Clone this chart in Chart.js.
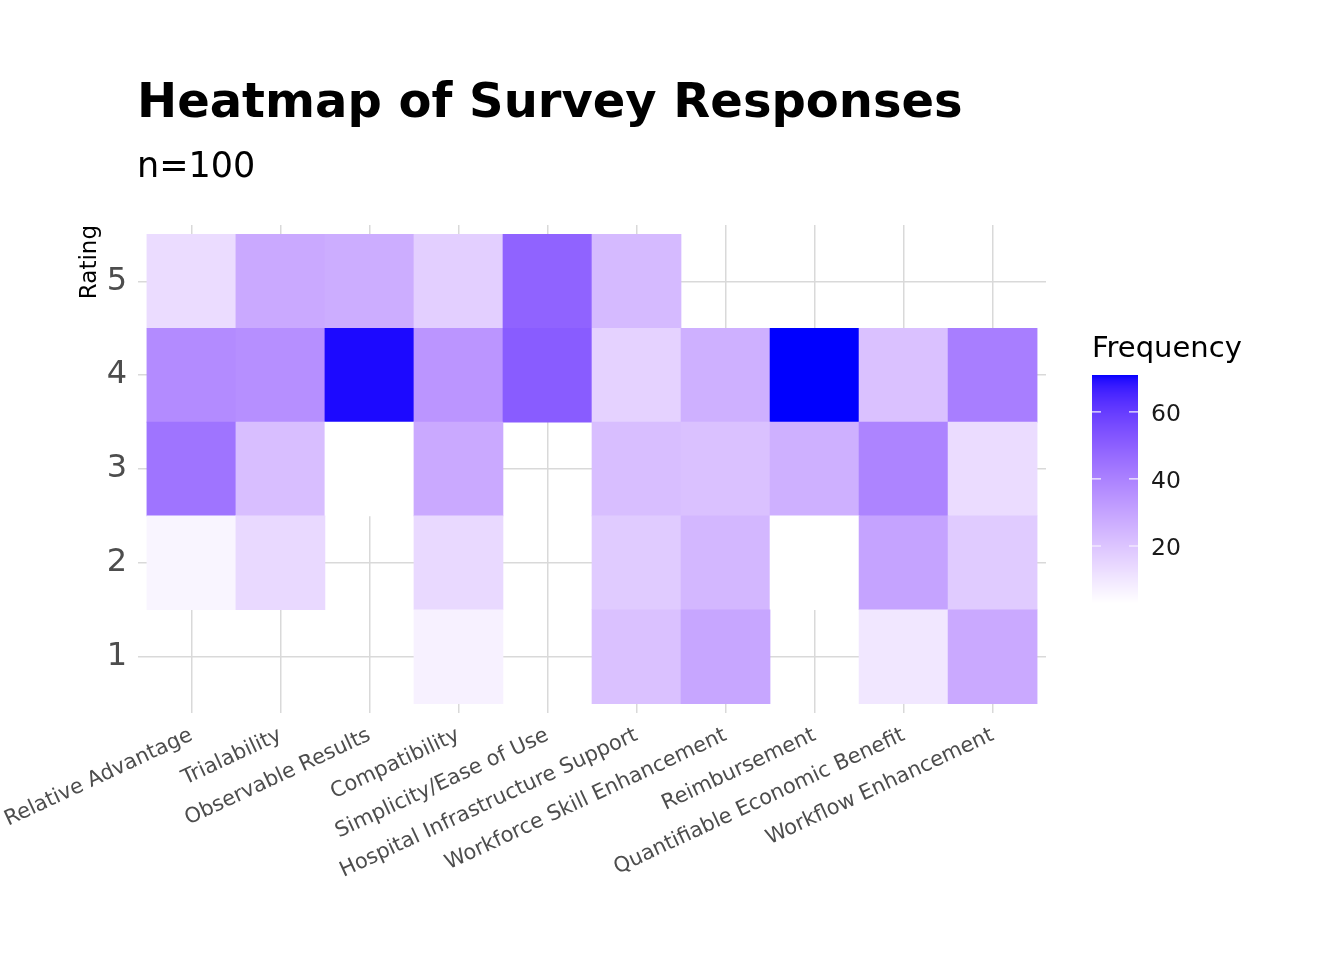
<!DOCTYPE html>
<html><head><meta charset="utf-8">
<script src="https://cdn.jsdelivr.net/npm/chart.js@4/dist/chart.umd.min.js"></script>
<style>html,body{margin:0;padding:0;background:#fff}canvas{display:block}</style>
</head><body>
<canvas id="c" width="1344" height="960"></canvas>
<script>
// ---- data ----
const categories = ["Relative Advantage","Trialability","Observable Results","Compatibility","Simplicity/Ease of Use","Hospital Infrastructure Support","Workforce Skill Enhancement","Reimbursement","Quantifiable Economic Benefit","Workflow Enhancement"];
const ratings = [1, 2, 3, 4, 5];
const rating1 = [null, null, null, 7, null, 21, 29, null, 10, 28];
const rating2 = [6, 14, null, 14, null, 18, 24, 3, 30, 18];
const rating3 = [44, 22, 3, 28, null, 22, 21, 26, 39, 13];
const rating4 = [37, 36, 70, 34, 51, 16, 26, 71, 21, 41];
const rating5 = [13, 28, 27, 17, 49, 23, null, null, null, null];
const legendTicks = [20, 40, 60];
const titleText = "Heatmap of Survey Responses";
const subtitleText = "n=100";
const legendTitle = "Frequency";
const yTitle = "Rating";

const rows = [rating1, rating2, rating3, rating4, rating5];
const allVals = rows.flat().filter(v => v !== null);
const vmin = Math.min(...allVals), vmax = Math.max(...allVals);

// white -> blue gradient interpolated in CIE Lab
function lab2rgb(L, a, b) {
  const fy = (L + 16) / 116, fx = fy + a / 500, fz = fy - b / 200;
  const finv = f => f > 6 / 29 ? f * f * f : 3 * (6 / 29) * (6 / 29) * (f - 4 / 29);
  const X = 0.95047 * finv(fx), Y = finv(fy), Z = 1.08883 * finv(fz);
  const r = 3.2404542 * X - 1.5371385 * Y - 0.4985314 * Z;
  const g = -0.9692660 * X + 1.8760108 * Y + 0.0415560 * Z;
  const bl = 0.0556434 * X - 0.2040259 * Y + 1.0572252 * Z;
  const gam = c => { c = Math.max(0, Math.min(1, c)); return Math.round(255 * (c <= 0.0031308 ? 12.92 * c : 1.055 * Math.pow(c, 1 / 2.4) - 0.055)); };
  return `rgb(${gam(r)},${gam(g)},${gam(bl)})`;
}
const LOW = [100, 0, 0], HIGH = [32.297, 79.188, -107.86];
function fillFor(v) {
  const t = Math.max(0, Math.min(1, (v - vmin) / (vmax - vmin)));
  return lab2rgb(LOW[0] + t * (HIGH[0] - LOW[0]), LOW[1] + t * (HIGH[1] - LOW[1]), LOW[2] + t * (HIGH[2] - LOW[2]));
}

const datasets = ratings.map((r, ri) => {
  const data = [], colors = [];
  rows[ri].forEach((v, ci) => {
    if (v !== null) { data.push({ x: ci + 1, y: [r - 0.5, r + 0.5] }); colors.push(fillFor(v)); }
  });
  return { label: "Rating " + r, data, backgroundColor: colors, borderWidth: 0,
           barPercentage: 1, categoryPercentage: 1, grouped: false };
});

const FONT = "DejaVu Sans";

const decor = {
  id: "decor",
  afterDraw(chart) {
    const ctx = chart.ctx;
    ctx.save();
    ctx.fillStyle = "#000";
    ctx.textAlign = "left";
    ctx.textBaseline = "alphabetic";
    ctx.font = `bold 48px "${FONT}"`;
    ctx.fillText(titleText, 137, 117);
    ctx.font = `35px "${FONT}"`;
    ctx.fillText(subtitleText, 137, 177);
    // legend
    ctx.font = `29px "${FONT}"`;
    ctx.fillText(legendTitle, 1092, 357);
    const bx = 1092, bw = 46, top = 375, bot = 603;
    for (let y = top; y < bot; y++) {
      const v = vmax - (y + 0.5 - top) / (bot - top) * (vmax - vmin);
      ctx.fillStyle = fillFor(v);
      ctx.fillRect(bx, y, bw, 1);
    }
    ctx.strokeStyle = "rgba(255,255,255,0.9)";
    ctx.lineWidth = 1.2;
    ctx.font = `23.5px "${FONT}"`;
    ctx.textBaseline = "middle";
    legendTicks.forEach(t => {
      const y = bot - (t - vmin) / (vmax - vmin) * (bot - top);
      ctx.beginPath();
      ctx.moveTo(bx, y); ctx.lineTo(bx + 9, y);
      ctx.moveTo(bx + bw - 9, y); ctx.lineTo(bx + bw, y);
      ctx.stroke();
      ctx.fillStyle = "#1a1a1a";
      ctx.fillText(String(t), 1151, y + 3);
    });
    ctx.restore();
  }
};

new Chart(document.getElementById("c"), {
  type: "bar",
  data: { datasets },
  plugins: [decor],
  options: {
    responsive: false,
    animation: false,
    devicePixelRatio: 1,
    layout: { padding: { left: 0, right: 298, top: 225, bottom: 0 } },
    plugins: { legend: { display: false }, tooltip: { enabled: false }, title: { display: false } },
    scales: {
      x: {
        type: "linear", min: 0.4, max: 10.6, offset: false,
        grid: { color: "#D9D9D9", lineWidth: 1.5, drawTicks: false, offset: false },
        border: { display: false },
        afterBuildTicks: s => { s.ticks = categories.map((_, i) => ({ value: i + 1 })); },
        afterFit: s => { s.height = 247; s.paddingLeft = 0; s.paddingRight = 0; },
        ticks: {
          autoSkip: false, minRotation: 25, maxRotation: 25, padding: 10,
          color: "#4D4D4D", font: { family: FONT, size: 21 },
          callback: v => categories[Math.round(v) - 1]
        }
      },
      y: {
        type: "linear", min: 0.4, max: 5.6, beginAtZero: false,
        grid: { color: "#D9D9D9", lineWidth: 1.5, drawTicks: false },
        border: { display: false },
        afterBuildTicks: s => { s.ticks = ratings.map(r => ({ value: r })); },
        afterFit: s => { s.width = 138; s.paddingTop = 0; s.paddingBottom = 0; },
        ticks: { padding: 11, color: "#4D4D4D", font: { family: FONT, size: 32 }, callback: v => String(v) },
        title: { display: true, text: yTitle, align: "end", color: "#000", font: { family: FONT, size: 23 }, padding: { top: 76, bottom: 0 } }
      }
    }
  }
});
</script>
</body></html>
